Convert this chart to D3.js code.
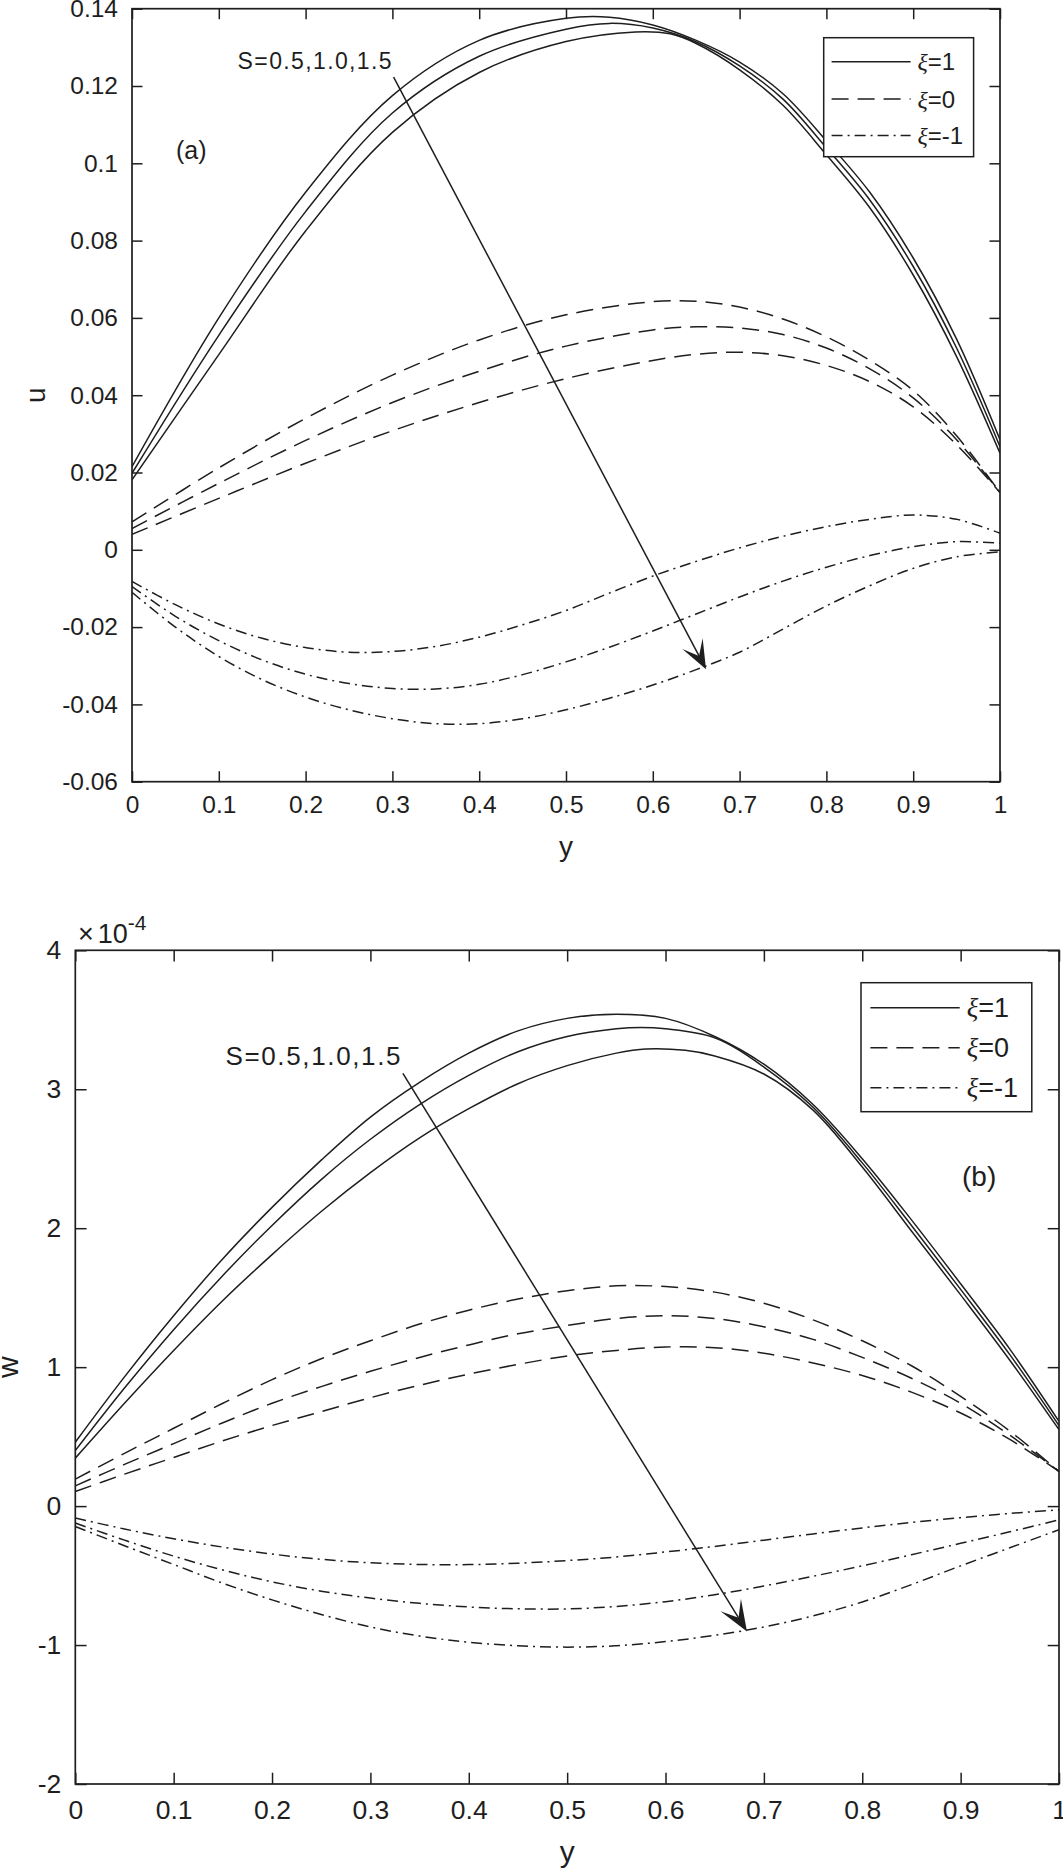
<!DOCTYPE html>
<html>
<head>
<meta charset="utf-8">
<script src="https://cdn.jsdelivr.net/npm/d3@7"></script>
<style>
  body { margin: 0; background: #fff; }
  svg { display: block; }
  text { font-family: "Liberation Sans", Arial, sans-serif; fill: #1e1e1e; }
</style>
</head>
<body>
<script>
var width = 1063;
var height = 1876;
var ink = "#1e1e1e";

// x axis (shared by both panels)
var xTicks = [0, 0.1, 0.2, 0.3, 0.4, 0.5, 0.6, 0.7, 0.8, 0.9, 1];
var xTickLabels = ["0", "0.1", "0.2", "0.3", "0.4", "0.5", "0.6", "0.7", "0.8", "0.9", "1"];

// panel (a): u
var uTicks = [-0.06, -0.04, -0.02, 0, 0.02, 0.04, 0.06, 0.08, 0.1, 0.12, 0.14];
var uTickLabels = ["-0.06", "-0.04", "-0.02", "0", "0.02", "0.04", "0.06", "0.08", "0.1", "0.12", "0.14"];

var u_xi1_S05 = [[0,0.0215],[0.1,0.06],[0.2,0.0925],[0.3,0.1175],[0.4,0.1318],[0.5,0.1375],[0.55,0.1378],[0.6,0.1358],[0.65,0.1318],[0.7,0.1262],[0.75,0.118],[0.8,0.1058],[0.85,0.0925],[0.9,0.0755],[0.95,0.0545],[1,0.0285]];
var u_xi1_S10 = [[0,0.0198],[0.1,0.0555],[0.2,0.0875],[0.3,0.113],[0.4,0.1277],[0.5,0.1347],[0.55,0.1362],[0.6,0.135],[0.65,0.1314],[0.7,0.1252],[0.75,0.1166],[0.8,0.104],[0.85,0.0905],[0.9,0.0733],[0.95,0.0522],[1,0.0267]];
var u_xi1_S15 = [[0,0.0181],[0.1,0.0505],[0.2,0.0825],[0.3,0.108],[0.4,0.1235],[0.5,0.1315],[0.58,0.134],[0.62,0.1335],[0.65,0.131],[0.7,0.1242],[0.75,0.115],[0.8,0.1022],[0.85,0.0885],[0.9,0.0711],[0.95,0.05],[1,0.025]];

var u_xi0_S05 = [[0,0.0072],[0.1,0.0212],[0.2,0.034],[0.3,0.0452],[0.4,0.0543],[0.5,0.0608],[0.6,0.0642],[0.65,0.0643],[0.7,0.0628],[0.75,0.0597],[0.8,0.0551],[0.85,0.049],[0.9,0.0412],[0.95,0.0295],[1,0.0148]];
var u_xi0_S10 = [[0,0.0055],[0.1,0.0172],[0.2,0.0283],[0.3,0.0381],[0.4,0.0462],[0.5,0.0527],[0.6,0.0569],[0.65,0.0577],[0.7,0.0574],[0.75,0.0557],[0.8,0.0522],[0.85,0.0468],[0.9,0.0393],[0.95,0.0285],[1,0.0148]];
var u_xi0_S15 = [[0,0.004],[0.1,0.0133],[0.2,0.0224],[0.3,0.0308],[0.4,0.0381],[0.5,0.0443],[0.6,0.049],[0.65,0.0506],[0.7,0.0511],[0.75,0.0502],[0.8,0.0477],[0.85,0.0435],[0.9,0.037],[0.95,0.0272],[1,0.0148]];

var u_xim1_S05 = [[0,-0.0082],[0.05,-0.0142],[0.1,-0.0192],[0.15,-0.0229],[0.2,-0.0253],[0.25,-0.0265],[0.3,-0.0263],[0.35,-0.025],[0.4,-0.0226],[0.45,-0.0194],[0.5,-0.0157],[0.55,-0.0112],[0.6,-0.0068],[0.65,-0.003],[0.7,0.0005],[0.75,0.0035],[0.8,0.006],[0.85,0.0079],[0.9,0.009],[0.95,0.0079],[1,0.0043]];
var u_xim1_S10 = [[0,-0.0095],[0.05,-0.0172],[0.1,-0.0235],[0.15,-0.0285],[0.2,-0.0322],[0.25,-0.0346],[0.3,-0.0359],[0.35,-0.036],[0.4,-0.0348],[0.45,-0.0323],[0.5,-0.029],[0.55,-0.0252],[0.6,-0.021],[0.65,-0.0166],[0.7,-0.0122],[0.75,-0.0081],[0.8,-0.0045],[0.85,-0.0015],[0.9,0.0008],[0.95,0.0021],[1,0.0017]];
var u_xim1_S15 = [[0,-0.011],[0.05,-0.02],[0.1,-0.0276],[0.15,-0.0336],[0.2,-0.0381],[0.25,-0.0414],[0.3,-0.0437],[0.35,-0.045],[0.4,-0.045],[0.45,-0.0437],[0.5,-0.0414],[0.55,-0.0384],[0.6,-0.035],[0.65,-0.031],[0.7,-0.0265],[0.75,-0.0205],[0.8,-0.0145],[0.85,-0.0093],[0.9,-0.0048],[0.95,-0.0018],[1,-0.0005]];

// panel (b): w, in units of 1e-4
var wTicks = [-2, -1, 0, 1, 2, 3, 4];
var wTickLabels = ["-2", "-1", "0", "1", "2", "3", "4"];

var w_xi1_S05 = [[0,0.46],[0.05,0.93],[0.1,1.37],[0.15,1.78],[0.2,2.15],[0.25,2.49],[0.3,2.8],[0.35,3.05],[0.4,3.26],[0.45,3.42],[0.5,3.51],[0.55,3.54],[0.6,3.51],[0.65,3.38],[0.7,3.18],[0.75,2.89],[0.8,2.5],[0.85,2.06],[0.9,1.6],[0.95,1.13],[1,0.61]];
var w_xi1_S10 = [[0,0.4],[0.05,0.85],[0.1,1.27],[0.15,1.66],[0.2,2.02],[0.25,2.35],[0.3,2.64],[0.35,2.89],[0.4,3.1],[0.45,3.27],[0.5,3.38],[0.55,3.435],[0.575,3.445],[0.6,3.435],[0.65,3.37],[0.7,3.16],[0.75,2.87],[0.8,2.47],[0.85,2.02],[0.9,1.56],[0.95,1.09],[1,0.58]];
var w_xi1_S15 = [[0,0.345],[0.05,0.74],[0.1,1.12],[0.15,1.48],[0.2,1.81],[0.25,2.12],[0.3,2.4],[0.35,2.65],[0.4,2.86],[0.45,3.04],[0.5,3.17],[0.55,3.26],[0.58,3.29],[0.62,3.28],[0.65,3.24],[0.7,3.11],[0.75,2.85],[0.8,2.44],[0.85,1.98],[0.9,1.52],[0.95,1.05],[1,0.55]];

var w_xi0_S05 = [[0,0.194],[0.05,0.38],[0.1,0.56],[0.15,0.74],[0.2,0.91],[0.25,1.06],[0.3,1.19],[0.35,1.31],[0.4,1.41],[0.45,1.49],[0.5,1.55],[0.55,1.585],[0.6,1.58],[0.65,1.54],[0.7,1.46],[0.75,1.34],[0.8,1.19],[0.85,1.01],[0.9,0.79],[0.95,0.54],[1,0.25]];
var w_xi0_S10 = [[0,0.146],[0.05,0.3],[0.1,0.45],[0.15,0.6],[0.2,0.74],[0.25,0.86],[0.3,0.97],[0.35,1.07],[0.4,1.16],[0.45,1.24],[0.5,1.3],[0.55,1.35],[0.6,1.37],[0.65,1.35],[0.7,1.29],[0.75,1.2],[0.8,1.07],[0.85,0.92],[0.9,0.74],[0.95,0.51],[1,0.25]];
var w_xi0_S15 = [[0,0.105],[0.05,0.23],[0.1,0.35],[0.15,0.47],[0.2,0.58],[0.25,0.68],[0.3,0.78],[0.35,0.87],[0.4,0.95],[0.45,1.02],[0.5,1.08],[0.55,1.12],[0.6,1.145],[0.65,1.14],[0.7,1.1],[0.75,1.03],[0.8,0.94],[0.85,0.82],[0.9,0.67],[0.95,0.48],[1,0.25]];

var w_xim1_S05 = [[0,-0.086],[0.05,-0.165],[0.1,-0.235],[0.15,-0.295],[0.2,-0.345],[0.25,-0.383],[0.3,-0.408],[0.35,-0.42],[0.4,-0.421],[0.45,-0.411],[0.5,-0.392],[0.55,-0.366],[0.6,-0.33],[0.65,-0.29],[0.7,-0.245],[0.75,-0.2],[0.8,-0.157],[0.85,-0.118],[0.9,-0.083],[0.95,-0.053],[1,-0.027]];
var w_xim1_S10 = [[0,-0.122],[0.05,-0.245],[0.1,-0.36],[0.15,-0.46],[0.2,-0.545],[0.25,-0.612],[0.3,-0.662],[0.35,-0.7],[0.4,-0.726],[0.45,-0.739],[0.5,-0.74],[0.55,-0.722],[0.6,-0.688],[0.65,-0.638],[0.7,-0.575],[0.75,-0.505],[0.8,-0.43],[0.85,-0.35],[0.9,-0.268],[0.95,-0.185],[1,-0.099]];
var w_xim1_S15 = [[0,-0.147],[0.05,-0.285],[0.1,-0.42],[0.15,-0.555],[0.2,-0.675],[0.25,-0.78],[0.3,-0.87],[0.35,-0.935],[0.4,-0.98],[0.45,-1.005],[0.5,-1.015],[0.55,-1.005],[0.6,-0.975],[0.65,-0.93],[0.7,-0.87],[0.75,-0.79],[0.8,-0.69],[0.85,-0.565],[0.9,-0.43],[0.95,-0.3],[1,-0.17]];

var legendLabels = ["1", "0", "-1"];
var sLabel = "S=0.5,1.0,1.5";
var arrowA = [[0.3014, 0.1223], [0.6613, -0.0309]];
var arrowB = [[0.333, 3.115], [0.6828, -0.902]];

var dashes = { solid: null, dash: "17,9", dashdot: "11,5,2,5" };
var styleOrder = ["solid", "dash", "dashdot"];

var svg = d3.select("body")
            .append("svg")
            .attr("width", width)
            .attr("height", height);

var drawPanel = function(p) {
  var x = d3.scaleLinear().domain([0, 1]).range([p.left, p.right]);
  var y = d3.scaleLinear().domain(p.yDomain).range([p.bottom, p.top]);
  var g = svg.append("g");

  g.append("clipPath").attr("id", p.id)
    .append("rect")
    .attr("x", p.left).attr("y", p.top)
    .attr("width", p.right - p.left).attr("height", p.bottom - p.top);

  var line = d3.line()
    .x(function(d) { return x(d[0]); })
    .y(function(d) { return y(d[1]); })
    .curve(d3.curveCatmullRom.alpha(0.5));

  var curves = g.append("g").attr("clip-path", "url(#" + p.id + ")");
  p.groups.forEach(function(group, gi) {
    group.forEach(function(series) {
      curves.append("path")
        .attr("d", line(series))
        .attr("fill", "none")
        .attr("stroke", ink)
        .attr("stroke-width", 1.5)
        .attr("stroke-dasharray", dashes[styleOrder[gi]]);
    });
  });

  // axes, ticks pointing inward
  var fix = function(sel) {
    sel.select(".domain").remove();
    sel.selectAll(".tick line").attr("stroke", ink).attr("stroke-width", 1.5);
    sel.selectAll(".tick text")
      .attr("fill", ink)
      .style("font-family", "'Liberation Sans', Arial, sans-serif")
      .style("font-size", p.tickFont + "px");
  };
  g.append("g").attr("transform", "translate(0," + p.bottom + ")")
    .call(d3.axisBottom(x).tickValues(xTicks)
      .tickFormat(function(d, i) { return xTickLabels[i]; })
      .tickSize(-p.tick).tickPadding(p.xPad))
    .call(fix);
  g.append("g").attr("transform", "translate(0," + p.top + ")")
    .call(d3.axisTop(x).tickValues(xTicks).tickFormat("").tickSize(-p.tick))
    .call(fix);
  g.append("g").attr("transform", "translate(" + p.left + ",0)")
    .call(d3.axisLeft(y).tickValues(p.yTicks)
      .tickFormat(function(d, i) { return p.yTickLabels[i]; })
      .tickSize(-p.tick).tickPadding(p.yPad))
    .call(fix);
  g.append("g").attr("transform", "translate(" + p.right + ",0)")
    .call(d3.axisRight(y).tickValues(p.yTicks).tickFormat("").tickSize(-p.tick))
    .call(fix);

  g.append("rect")
    .attr("x", p.left).attr("y", p.top)
    .attr("width", p.right - p.left).attr("height", p.bottom - p.top)
    .attr("fill", "none").attr("stroke", ink).attr("stroke-width", 1.7);

  // axis labels
  g.append("text")
    .attr("x", x(0.5)).attr("y", p.xLabelY)
    .attr("text-anchor", "middle")
    .style("font-size", p.labelFont + "px")
    .text("y");
  g.append("text")
    .attr("transform", "translate(" + p.yLabelX + "," + (p.top + p.bottom) / 2 + ") rotate(-90)")
    .attr("text-anchor", "middle")
    .style("font-size", p.labelFont + "px")
    .text(p.yLabel);

  // legend
  var lg = p.legend;
  g.append("rect")
    .attr("x", lg.x0).attr("y", lg.y0)
    .attr("width", lg.x1 - lg.x0).attr("height", lg.y1 - lg.y0)
    .attr("fill", "#fff").attr("stroke", ink).attr("stroke-width", 1.5);
  legendLabels.forEach(function(lab, i) {
    var cy = lg.rowY[i];
    g.append("line")
      .attr("x1", lg.lx0).attr("x2", lg.lx1)
      .attr("y1", cy).attr("y2", cy)
      .attr("stroke", ink).attr("stroke-width", 1.5)
      .attr("stroke-dasharray", dashes[styleOrder[i]]);
    var t = g.append("text")
      .attr("x", lg.tx).attr("y", cy + lg.font * 0.36)
      .style("font-size", lg.font + "px");
    t.append("tspan")
      .style("font-family", "'Liberation Serif', 'DejaVu Serif', serif")
      .style("font-style", "italic")
      .text("\u03BE");
    t.append("tspan").text("=" + lab);
  });

  // arrow with concave head
  var s = [x(p.arrow[0][0]), y(p.arrow[0][1])];
  var e = [x(p.arrow[1][0]), y(p.arrow[1][1])];
  var dx = e[0] - s[0], dy = e[1] - s[1];
  var len = Math.sqrt(dx * dx + dy * dy);
  var ux = dx / len, uy = dy / len;
  var nx = -uy, ny = ux;
  var hl = p.head[0], hw = p.head[1], hn = p.head[2];
  g.append("line")
    .attr("x1", s[0]).attr("y1", s[1])
    .attr("x2", e[0] - ux * hn).attr("y2", e[1] - uy * hn)
    .attr("stroke", ink).attr("stroke-width", 1.5);
  var pts = [
    [e[0], e[1]],
    [e[0] - ux * hl + nx * hw, e[1] - uy * hl + ny * hw],
    [e[0] - ux * hn, e[1] - uy * hn],
    [e[0] - ux * hl - nx * hw, e[1] - uy * hl - ny * hw]
  ];
  g.append("polygon")
    .attr("points", pts.map(function(q) { return q.join(","); }).join(" "))
    .attr("fill", ink);

  g.append("text")
    .attr("x", p.sText[0]).attr("y", p.sText[1])
    .attr("textLength", p.sText[2]).attr("lengthAdjust", "spacing")
    .style("font-size", p.sText[3] + "px")
    .text(sLabel);

  g.append("text")
    .attr("x", p.tag[0]).attr("y", p.tag[1])
    .style("font-size", p.tag[2] + "px")
    .text(p.tag[3]);

  return { x: x, y: y, g: g };
};

drawPanel({
  id: "clipA",
  left: 132, right: 1000, top: 8.7, bottom: 781.7,
  yDomain: [-0.06, 0.14], yTicks: uTicks, yTickLabels: uTickLabels,
  tick: 10.5, tickFont: 24.5, xPad: 14, yPad: 14,
  labelFont: 28, xLabelY: 856, yLabelX: 45, yLabel: "u",
  groups: [[u_xi1_S05, u_xi1_S10, u_xi1_S15], [u_xi0_S05, u_xi0_S10, u_xi0_S15], [u_xim1_S05, u_xim1_S10, u_xim1_S15]],
  legend: { x0: 823.7, x1: 973.6, y0: 37.7, y1: 156.7, lx0: 831.6, lx1: 910.6, tx: 917.5, rowY: [61.7, 99, 135.5], font: 24 },
  arrow: arrowA, head: [29, 11.5, 15],
  sText: [237.6, 69.3, 154, 23],
  tag: [176, 158.5, 25, "(a)"]
});

var pb = drawPanel({
  id: "clipB",
  left: 75.3, right: 1059, top: 950.3, bottom: 1784,
  yDomain: [-2, 4], yTicks: wTicks, yTickLabels: wTickLabels,
  tick: 11.3, tickFont: 26.5, xPad: 16, yPad: 14,
  labelFont: 30, xLabelY: 1862, yLabelX: 18, yLabel: "w",
  groups: [[w_xi1_S05, w_xi1_S10, w_xi1_S15], [w_xi0_S05, w_xi0_S10, w_xi0_S15], [w_xim1_S05, w_xim1_S10, w_xim1_S15]],
  legend: { x0: 861, x1: 1031.8, y0: 982.7, y1: 1111.7, lx0: 870.4, lx1: 959.7, tx: 966.7, rowY: [1007.7, 1047.7, 1087.7], font: 27 },
  arrow: arrowB, head: [31, 12, 16],
  sText: [225.5, 1065, 175, 26],
  tag: [962, 1186, 28, "(b)"]
});

// exponent label above panel (b)
var ex = pb.g.append("text").attr("x", 78).attr("y", 943.3).style("font-size", "27px");
ex.append("tspan").text("\u00D7");
ex.append("tspan").attr("dx", 4).text("10");
ex.append("tspan").attr("dy", -13).style("font-size", "21px").text("-4");
</script>
</body>
</html>
